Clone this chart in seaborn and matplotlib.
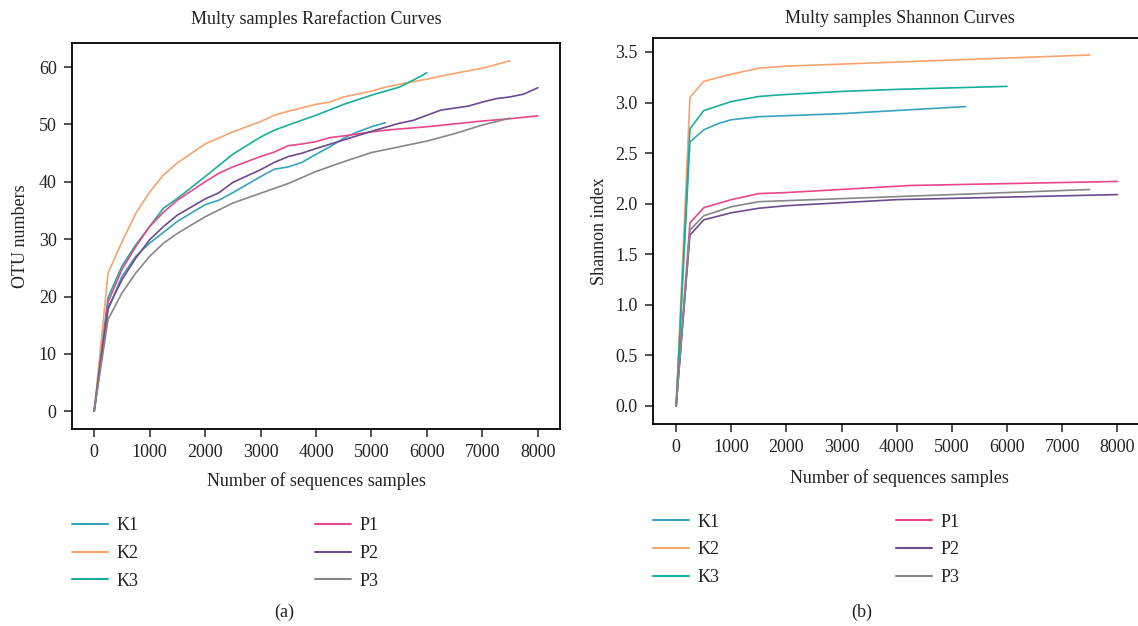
import numpy as np
import pandas as pd
import matplotlib
matplotlib.use("Agg")
import matplotlib.pyplot as plt
import seaborn as sns

# ---------------- data ----------------
samples = ["K1", "K2", "K3", "P1", "P2", "P3"]
colors = ["#38a3bd", "#f5a46e", "#17ae9b", "#e9478a", "#6c4a8c", "#878787"]

# Rarefaction (OTU numbers)
k1_x = [0, 250, 500, 750, 1000, 1500, 2000, 2250, 2500, 3000, 3250, 3500, 3750, 4000, 4250, 4500, 4750, 5000, 5250]
k1_y = [0, 17.7, 23.5, 27.0, 29.3, 33.1, 36.0, 36.8, 38.1, 40.9, 42.2, 42.6, 43.4, 44.8, 46.1, 47.6, 48.7, 49.6, 50.3]

k2_x = [0, 250, 500, 750, 1000, 1250, 1500, 2000, 2500, 3000, 3250, 3500, 4000, 4250, 4500, 5000, 5250, 5500, 6000, 6500, 7000, 7500]
k2_y = [0, 24.1, 29.5, 34.5, 38.2, 41.2, 43.3, 46.6, 48.7, 50.5, 51.6, 52.3, 53.5, 53.9, 54.8, 55.8, 56.5, 57.0, 57.9, 58.9, 59.8, 61.1]

k3_x = [0, 250, 500, 750, 1000, 1250, 1500, 2000, 2500, 3000, 3250, 3500, 4000, 4500, 5000, 5500, 5750, 6000]
k3_y = [0, 19.8, 25.3, 29.0, 32.2, 35.4, 37.1, 40.9, 44.8, 47.8, 49.0, 49.9, 51.6, 53.5, 55.1, 56.5, 57.7, 59.0]

p1_x = [0, 250, 500, 750, 1000, 1250, 1500, 2000, 2250, 2500, 3000, 3250, 3500, 3750, 4000, 4250, 4500, 5000, 5250, 6000, 7000, 7500, 8000]
p1_y = [0, 19.0, 24.7, 28.7, 32.2, 34.7, 36.8, 40.0, 41.5, 42.6, 44.4, 45.2, 46.3, 46.6, 47.0, 47.7, 48.0, 48.7, 49.0, 49.6, 50.6, 51.0, 51.5]

p2_x = [0, 250, 500, 750, 1000, 1250, 1500, 2000, 2250, 2500, 3000, 3250, 3500, 3750, 4000, 4500, 5000, 5500, 5750, 6000, 6250, 6750, 7000, 7250, 7500, 7750, 8000]
p2_y = [0, 18.0, 22.9, 26.7, 29.9, 32.2, 34.2, 37.0, 38.1, 39.9, 42.1, 43.4, 44.4, 45.0, 45.8, 47.3, 48.8, 50.2, 50.7, 51.6, 52.5, 53.2, 53.9, 54.5, 54.8, 55.3, 56.4]

p3_x = [0, 250, 500, 750, 1000, 1250, 1500, 2000, 2500, 3000, 3500, 4000, 4500, 5000, 5500, 6000, 6500, 7000, 7500]
p3_y = [0, 16.0, 20.6, 24.1, 27.0, 29.3, 31.0, 33.9, 36.3, 38.0, 39.7, 41.8, 43.5, 45.1, 46.1, 47.1, 48.4, 49.9, 51.1]

# Shannon index
sk1_x = [0, 250, 500, 750, 1000, 1500, 2000, 3000, 5250]
sk1_y = [0, 2.61, 2.73, 2.79, 2.83, 2.86, 2.87, 2.89, 2.96]

sk2_x = [0, 250, 500, 1000, 1500, 2000, 4000, 7500]
sk2_y = [0, 3.05, 3.21, 3.28, 3.34, 3.36, 3.40, 3.47]

sk3_x = [0, 250, 500, 1000, 1500, 2000, 3000, 4000, 6000]
sk3_y = [0, 2.74, 2.92, 3.01, 3.06, 3.08, 3.11, 3.13, 3.16]

sp1_x = [0, 250, 500, 1000, 1500, 2000, 4250, 8000]
sp1_y = [0, 1.81, 1.96, 2.04, 2.10, 2.11, 2.18, 2.22]

sp2_x = [0, 250, 500, 1000, 1500, 2000, 3000, 4000, 8000]
sp2_y = [0, 1.69, 1.84, 1.91, 1.955, 1.98, 2.01, 2.04, 2.09]

sp3_x = [0, 250, 500, 1000, 1500, 2000, 7500]
sp3_y = [0, 1.74, 1.88, 1.97, 2.02, 2.03, 2.14]

rare = [(k1_x, k1_y), (k2_x, k2_y), (k3_x, k3_y), (p1_x, p1_y), (p2_x, p2_y), (p3_x, p3_y)]
shan = [(sk1_x, sk1_y), (sk2_x, sk2_y), (sk3_x, sk3_y), (sp1_x, sp1_y), (sp2_x, sp2_y), (sp3_x, sp3_y)]


def to_long(series):
    frames = []
    for name, (xs, ys) in zip(samples, series):
        frames.append(pd.DataFrame({"x": xs, "y": ys, "sample": name}))
    return pd.concat(frames, ignore_index=True)


df_r = to_long(rare)
df_s = to_long(shan)

# ---------------- style ----------------
sns.set_theme(style="ticks")
plt.rcParams["font.family"] = ["Liberation Serif", "DejaVu Serif"]
plt.rcParams["text.color"] = "#222222"
plt.rcParams["axes.labelcolor"] = "#222222"
plt.rcParams["xtick.color"] = "#222222"
plt.rcParams["ytick.color"] = "#222222"

W, H = 1138, 626
fig = plt.figure(figsize=(W / 100, H / 100), dpi=100)


def px_axes(l, t, r, b):
    return fig.add_axes([l / W, 1 - b / H, (r - l) / W, (b - t) / H])


ax1 = px_axes(72, 43, 560, 429)
ax2 = px_axes(653, 38, 1146, 424)

pal = dict(zip(samples, colors))
FS = 13

for ax, df in [(ax1, df_r), (ax2, df_s)]:
    sns.lineplot(data=df, x="x", y="y", hue="sample", palette=pal, ax=ax,
                 linewidth=1.2, sort=False, estimator=None, legend=True)
    for sp in ax.spines.values():
        sp.set_linewidth(1.3)
        sp.set_color("black")
    ax.tick_params(axis="both", labelsize=FS, length=6, width=1.2, color="#333333", pad=5)
    ax.set_xticks(range(0, 8001, 1000))

ax1.set_xlim(-400, 8400)
ax1.set_ylim(-3.1, 64.2)
ax1.set_yticks(range(0, 61, 10))
ax1.set_ylabel("OTU numbers", fontsize=FS, labelpad=7)
ax1.set_xlabel("Number of sequences samples", fontsize=FS, labelpad=8)
ax1.set_title("Multy samples Rarefaction Curves", fontsize=FS, pad=14)

ax2.set_xlim(-420, 8520)
ax2.set_ylim(-0.178, 3.638)
ax2.set_yticks(np.arange(0, 3.51, 0.5))
ax2.set_yticklabels([f"{v:.1f}" for v in np.arange(0, 3.51, 0.5)])
ax2.set_ylabel("Shannon index", fontsize=FS, labelpad=5)
ax2.set_xlabel("Number of sequences samples", fontsize=FS, labelpad=9)
ax2.set_title("Multy samples Shannon Curves", fontsize=FS, pad=10.5)

for ax, dy in [(ax1, -0.228), (ax2, -0.232)]:
    h, l = ax.get_legend_handles_labels()
    for hh in h:
        hh.set_linewidth(1.5)
    ax.legend(h, l, loc="upper left", bbox_to_anchor=(0.0, dy), ncol=2,
              frameon=False, fontsize=FS, handlelength=2.0, handletextpad=0.45,
              columnspacing=9.8, labelspacing=0.6, borderpad=0, borderaxespad=0)

fig.text(284 / W, 1 - 612 / H, "(a)", ha="center", va="center", fontsize=FS)
fig.text(862 / W, 1 - 612 / H, "(b)", ha="center", va="center", fontsize=FS)

fig.savefig("out.png", dpi=100)
